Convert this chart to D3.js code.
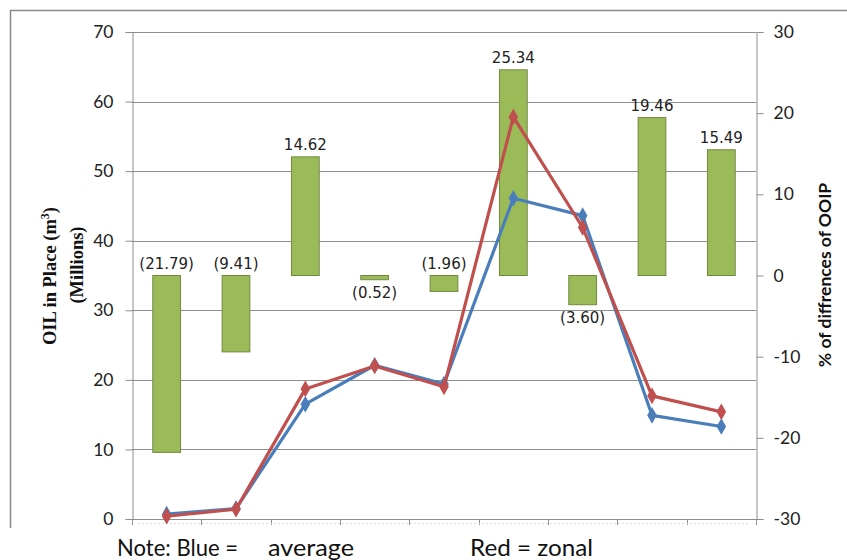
<!DOCTYPE html>
<html>
<head>
<meta charset="utf-8">
<script src="https://cdn.jsdelivr.net/npm/d3@7"></script>
<style>
  html, body { margin: 0; padding: 0; background: #fff; }
  svg { display: block; }
</style>
</head>
<body>
<svg id="chart" width="847" height="560"></svg>
<script>
// Nine cases, oil in place by two methods and their % difference
const cases = [1, 2, 3, 4, 5, 6, 7, 8, 9];
const averageOil = [0.7, 1.5, 16.5, 22.1, 19.4, 46.1, 43.6, 14.9, 13.3];   // blue
const zonalOil   = [0.4, 1.4, 18.7, 22.0, 19.0, 57.8, 41.9, 17.7, 15.4];   // red
const pctDiff    = [-21.79, -9.41, 14.62, -0.52, -1.96, 25.34, -3.60, 19.46, 15.49];
const pctLabelSide = ["above", "above", "above", "below", "above", "above", "below", "above", "above"];
const leftTicks  = [0, 10, 20, 30, 40, 50, 60, 70];
const rightTicks = [-30, -20, -10, 0, 10, 20, 30];

const svg = d3.select("#chart");
const plot = { left: 132, right: 756, top: 32, bottom: 519 };

const x = d3.scaleBand().domain(cases)
  .range([plot.left, plot.right]).paddingInner(0.6).paddingOuter(0.3);
const yL = d3.scaleLinear().domain([0, 70]).range([plot.bottom, plot.top]);
const yR = d3.scaleLinear().domain([-30, 30]).range([plot.bottom, plot.top]);
const cx = d => x(d) + x.bandwidth() / 2;
const step = x.step();

const gridColor = "#8e8e8e";
const tickFont = "Lato, 'Open Sans', sans-serif";

// outer frame (top and left edges)
svg.append("path")
  .attr("d", "M10.5,528 V10.5 H847")
  .attr("fill", "none").attr("stroke", "#8a8a8a").attr("stroke-width", 1.5);

// horizontal gridlines on the left axis
svg.append("g").selectAll("line").data(leftTicks).join("line")
  .attr("x1", plot.left).attr("x2", plot.right)
  .attr("y1", d => Math.round(yL(d)) + 0.5).attr("y2", d => Math.round(yL(d)) + 0.5)
  .attr("stroke", gridColor).attr("stroke-width", 1);

// left axis
const leftAxis = svg.append("g")
  .attr("transform", `translate(${plot.left + 0.5},0)`)
  .call(d3.axisLeft(yL).tickValues(leftTicks).tickFormat(d => String(d))
    .tickSize(7).tickPadding(12));
leftAxis.select(".domain").attr("stroke", gridColor);
leftAxis.selectAll(".tick line").attr("stroke", gridColor);
leftAxis.selectAll(".tick text")
  .attr("font-family", tickFont).attr("font-size", 17.5).attr("fill", "#222");

// right axis (plain hyphen for negative ticks)
const rightAxis = svg.append("g")
  .attr("transform", `translate(${plot.right + 0.5},0)`)
  .call(d3.axisRight(yR).tickValues(rightTicks).tickFormat(d => String(d))
    .tickSize(7).tickPadding(10));
rightAxis.select(".domain").attr("stroke", gridColor);
rightAxis.selectAll(".tick line").attr("stroke", gridColor);
rightAxis.selectAll(".tick text")
  .attr("font-family", tickFont).attr("font-size", 17.5).attr("fill", "#222");

// bottom axis with category boundary ticks
const boundaries = d3.range(cases.length + 1).map(i => plot.left + i * step);
svg.append("line")
  .attr("x1", plot.left).attr("x2", plot.right)
  .attr("y1", plot.bottom + 0.5).attr("y2", plot.bottom + 0.5)
  .attr("stroke", gridColor);
svg.append("g").selectAll("line").data(boundaries).join("line")
  .attr("x1", d => Math.round(d) + 0.5).attr("x2", d => Math.round(d) + 0.5)
  .attr("y1", plot.bottom).attr("y2", plot.bottom + 6)
  .attr("stroke", gridColor);
svg.append("line")
  .attr("x1", plot.left + 6).attr("x2", plot.right - 6)
  .attr("y1", plot.bottom + 4.5).attr("y2", plot.bottom + 4.5)
  .attr("stroke", "#dcdcdc").attr("stroke-dasharray", "2,2");

// % difference bars on the right axis
svg.append("g").selectAll("rect").data(pctDiff).join("rect")
  .attr("x", (d, i) => x(cases[i]))
  .attr("width", x.bandwidth())
  .attr("y", d => yR(Math.max(0, d)))
  .attr("height", d => Math.abs(yR(d) - yR(0)))
  .attr("fill", "#9bbb59").attr("stroke", "#71893f").attr("stroke-width", 1);

// bar value labels, negatives in parentheses
const fmt = d3.format(".2f");
svg.append("g").selectAll("text").data(pctDiff).join("text")
  .attr("x", (d, i) => cx(cases[i]))
  .attr("y", (d, i) => {
    if (pctLabelSide[i] === "below") return yR(Math.min(0, d)) + 18;
    return yR(Math.max(0, d)) - 7;
  })
  .attr("text-anchor", "middle")
  .attr("font-family", "'DejaVu Sans', sans-serif").attr("font-size", 15)
  .attr("fill", "#222")
  .text(d => d < 0 ? `(${fmt(-d)})` : fmt(d));

// oil-in-place lines with diamond markers
const line = d3.line().x((d, i) => cx(cases[i])).y(d => yL(d));
const diamond = d3.symbol().type(d3.symbolDiamond).size(80);
const series = [
  { values: averageOil, color: "#4a7ebb" },
  { values: zonalOil, color: "#c0504d" }
];
series.forEach(s => {
  const g = svg.append("g");
  g.append("path").datum(s.values)
    .attr("d", line).attr("fill", "none")
    .attr("stroke", s.color).attr("stroke-width", 3.2).attr("stroke-linejoin", "round");
  g.selectAll("path.pt").data(s.values).join("path").attr("class", "pt")
    .attr("d", diamond)
    .attr("transform", (d, i) => `translate(${cx(cases[i])},${yL(d)})`)
    .attr("fill", s.color);
});

// left axis title
const serif = "'Liberation Serif', 'Times New Roman', serif";
const lt = svg.append("text")
  .attr("transform", "translate(56,276) rotate(-90)")
  .attr("text-anchor", "middle")
  .attr("font-family", serif)
  .attr("font-weight", "bold").attr("font-size", 18.5).attr("fill", "#111");
lt.append("tspan").text("OIL in Place (m");
lt.append("tspan").attr("font-size", 12).attr("dy", -7).text("3");
lt.append("tspan").attr("dy", 7).text(")");
svg.append("text")
  .attr("transform", "translate(83,265) rotate(-90)")
  .attr("text-anchor", "middle")
  .attr("font-family", serif)
  .attr("font-weight", "bold").attr("font-size", 18.5).attr("fill", "#111")
  .text("(Millions)");

// right axis title
svg.append("text")
  .attr("transform", "translate(831,275) rotate(-90)")
  .attr("text-anchor", "middle")
  .attr("font-family", tickFont)
  .attr("font-weight", "bold").attr("font-size", 17.5).attr("fill", "#111")
  .text("% of diffrences of OOIP");

// note under the chart
const note = svg.append("g")
  .attr("font-family", tickFont)
  .attr("font-size", 24).attr("fill", "#111");
note.append("text").attr("x", 117).attr("y", 556)
  .attr("textLength", 121).attr("lengthAdjust", "spacingAndGlyphs").text("Note: Blue =");
note.append("text").attr("x", 268).attr("y", 556)
  .attr("textLength", 86).attr("lengthAdjust", "spacingAndGlyphs").text("average");
note.append("text").attr("x", 470).attr("y", 556)
  .attr("textLength", 123).attr("lengthAdjust", "spacingAndGlyphs").text("Red = zonal");
</script>
</body>
</html>
